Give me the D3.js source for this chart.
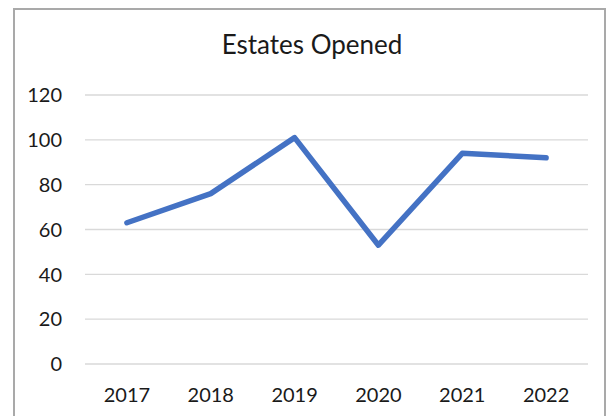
<!DOCTYPE html>
<meta charset="utf-8">
<title>Estates Opened</title>
<style>
body {
  margin: 0px;
  background: #fff;
}
text {
  font-family: Lato, "Open Sans", sans-serif;
  fill: #1a1a1a;
}
.grid line {
  stroke: #d9d9d9;
  stroke-width: 1.3px;
}
</style>
<script src="https://d3js.org/d3.v7.min.js"></script>
<body>
<script>
var years = ["2017", "2018", "2019", "2020", "2021", "2022"];
var opened = [63, 76, 101, 53, 94, 92];
var yTicks = [0, 20, 40, 60, 80, 100, 120];

var width = 611, height = 416;
var plotLeft = 85, plotRight = 588, plotTop = 95, plotBottom = 364;

var svg = d3.select("body").append("svg")
    .attr("width", width)
    .attr("height", height);

// chart frame (bottom edge is cut off in the picture)
svg.append("rect")
    .attr("x", 14)
    .attr("y", 9)
    .attr("width", 591)
    .attr("height", 440)
    .attr("fill", "#fff")
    .attr("stroke", "#a9a9a9")
    .attr("stroke-width", 2);

svg.append("text")
    .attr("x", 312)
    .attr("y", 54)
    .style("font-size", "26px")
    .style("text-anchor", "middle")
    .text("Estates Opened");

var x = d3.scaleBand()
    .domain(years)
    .range([plotLeft, plotRight]);
var y = d3.scaleLinear()
    .domain([0, 120])
    .range([plotBottom, plotTop]);

var grid = svg.append("g").attr("class", "grid");
grid.selectAll("line")
    .data(yTicks)
  .enter().append("line")
    .attr("x1", plotLeft)
    .attr("x2", plotRight)
    .attr("y1", function(d) { return y(d); })
    .attr("y2", function(d) { return y(d); });

svg.selectAll("text.ytick")
    .data(yTicks)
  .enter().append("text")
    .attr("class", "ytick")
    .attr("x", 62)
    .attr("y", function(d) { return y(d); })
    .attr("dy", "0.36em")
    .style("font-size", "20px")
    .style("text-anchor", "end")
    .text(function(d) { return d; });

svg.selectAll("text.xtick")
    .data(years)
  .enter().append("text")
    .attr("class", "xtick")
    .attr("x", function(d) { return x(d) + x.bandwidth() / 2; })
    .attr("y", 402)
    .style("font-size", "20px")
    .style("text-anchor", "middle")
    .text(function(d) { return d; });

var line = d3.line()
    .x(function(d, i) { return x(years[i]) + x.bandwidth() / 2; })
    .y(function(d) { return y(d); });

svg.append("path")
    .datum(opened)
    .attr("d", line)
    .attr("fill", "none")
    .attr("stroke", "#4472c4")
    .attr("stroke-width", 5.5)
    .attr("stroke-linejoin", "round")
    .attr("stroke-linecap", "round");
</script>
